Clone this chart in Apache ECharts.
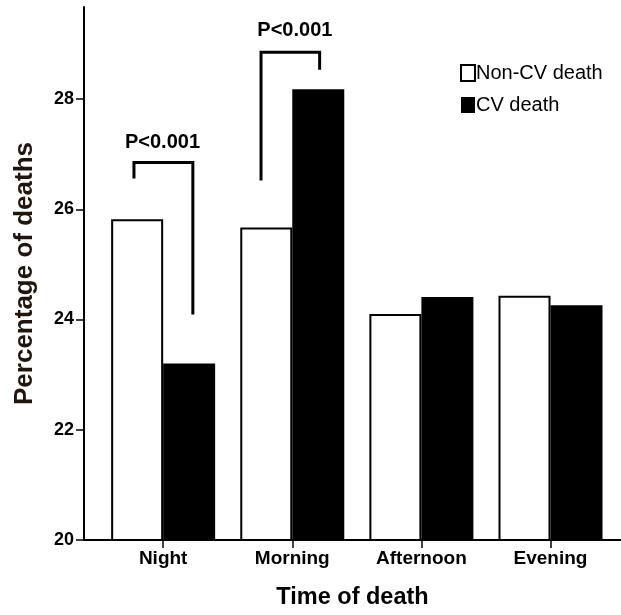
<!DOCTYPE html>
<html>
<head>
<meta charset="utf-8">
<script src="https://cdn.jsdelivr.net/npm/echarts@6/dist/echarts.min.js"></script>
<style>
  html, body { margin: 0; padding: 0; background: #fff; }
  #chart { width: 621px; height: 615px; }
</style>
</head>
<body>
<div id="chart"></div>
<script>
// Share of deaths by time of day, non-cardiovascular vs cardiovascular
const categories = ['Night', 'Morning', 'Afternoon', 'Evening'];
const nonCvDeath = [25.82, 25.67, 24.10, 24.43];
const cvDeath = [23.20, 28.18, 24.41, 24.26];
const yTicks = [20, 22, 24, 26, 28];

// Significance brackets (x in category index units, y in percent)
const nightBracket = [[-0.226, 26.56], [-0.226, 26.85], [0.23, 26.85], [0.23, 24.09]];
const morningBracket = [[0.758, 26.52], [0.758, 28.85], [1.212, 28.85], [1.212, 28.53]];
const pLabels = [[-0.005, 27.22, 'P<0.001'], [1.02, 29.24, 'P<0.001']];

const FONT = '"Liberation Sans", Arial, sans-serif';
const catIndex = categories.map((_, i) => i);

const chart = echarts.init(document.getElementById('chart'), null, { renderer: 'canvas' });

const bracketSeries = (data) => ({
  type: 'line',
  data: data,
  symbol: 'none',
  silent: true,
  animation: false,
  lineStyle: { color: '#000', width: 3, cap: 'butt', join: 'miter' },
  z: 5
});

chart.setOption({
  animation: false,
  backgroundColor: '#fff',
  grid: { left: 84, right: 0, top: 7, bottom: 71.5, containLabel: false },
  legend: {
    orient: 'vertical',
    left: 460,
    top: 63,
    padding: 0,
    itemWidth: 14,
    itemHeight: 16,
    itemGap: 12,
    icon: 'rect',
    data: ['Non-CV death', 'CV death'],
    textStyle: { fontFamily: FONT, fontSize: 20, color: '#000', lineHeight: 17, padding: [0, 0, 0, -4] }
  },
  xAxis: {
    type: 'value',
    min: -0.613,
    max: 3.546,
    name: 'Time of death',
    nameLocation: 'middle',
    nameGap: 46,
    nameTextStyle: { fontFamily: FONT, fontSize: 23.5, fontWeight: 'bold', color: '#000' },
    axisLine: { show: true, onZero: false, lineStyle: { color: '#000', width: 2 } },
    axisTick: { show: true, customValues: catIndex, length: 8, lineStyle: { color: '#000', width: 1.5 } },
    axisLabel: {
      customValues: catIndex,
      formatter: (v) => categories[Math.round(v)],
      margin: 9,
      fontFamily: FONT, fontSize: 19, fontWeight: 'bold', color: '#000'
    },
    splitLine: { show: false }
  },
  yAxis: {
    type: 'value',
    min: 20,
    max: 29.67,
    name: 'Percentage of deaths',
    nameLocation: 'middle',
    nameGap: 46,
    nameTextStyle: {
      fontFamily: FONT, fontSize: 26, fontWeight: 'bold', color: '#20160e',
      textShadowColor: 'rgba(225,130,35,0.9)', textShadowOffsetY: 1.5, textShadowBlur: 0
    },
    axisLine: { show: true, onZero: false, lineStyle: { color: '#000', width: 2 } },
    axisTick: { show: true, customValues: yTicks, length: 8, lineStyle: { color: '#000', width: 1.5 } },
    axisLabel: {
      customValues: yTicks,
      margin: 10,
      fontFamily: FONT, fontSize: 18, fontWeight: 'bold', color: '#000'
    },
    splitLine: { show: false }
  },
  series: [
    {
      name: 'Non-CV death',
      type: 'bar',
      data: nonCvDeath.map((v, i) => [i, v]),
      barWidth: 52,
      barGap: '0%',
      clip: true,
      itemStyle: { color: '#fff', borderColor: '#000', borderWidth: 2 }
    },
    {
      name: 'CV death',
      type: 'bar',
      data: cvDeath.map((v, i) => [i, v]),
      barWidth: 52,
      barGap: '0%',
      clip: true,
      itemStyle: { color: '#000' }
    },
    bracketSeries(nightBracket),
    bracketSeries(morningBracket),
    {
      type: 'scatter',
      data: pLabels,
      symbolSize: 0,
      silent: true,
      itemStyle: { opacity: 1 },
      label: {
        show: true,
        position: 'inside',
        formatter: (p) => p.data[2],
        fontFamily: FONT, fontSize: 20, fontWeight: 'bold', color: '#000'
      },
      z: 6
    }
  ]
});
</script>
</body>
</html>
